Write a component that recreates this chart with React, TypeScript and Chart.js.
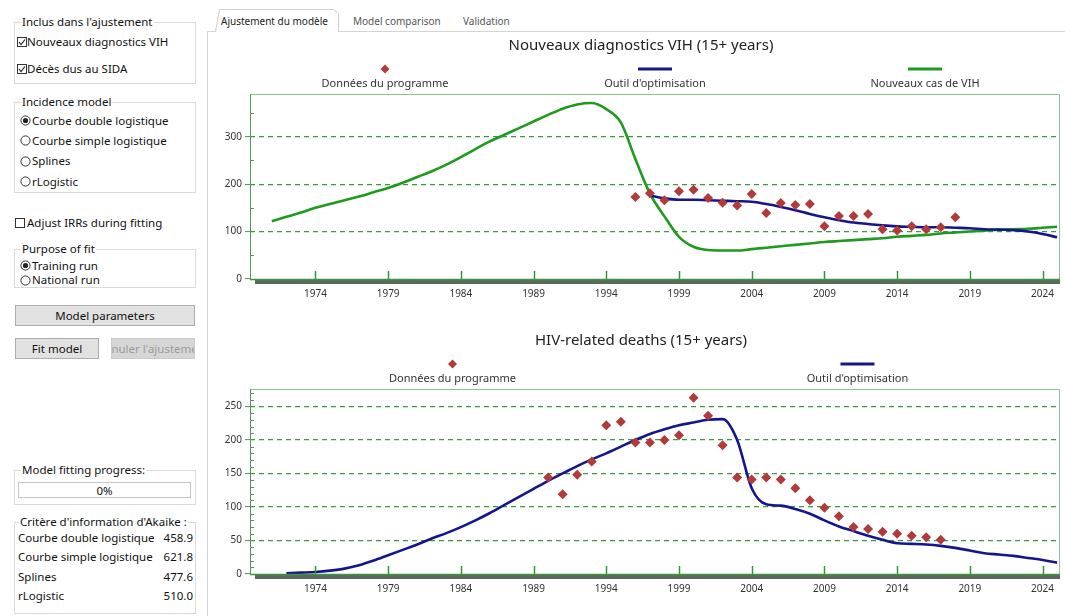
import React, { useEffect, useRef } from "react";
import { Chart, registerables } from "chart.js";

Chart.register(...registerables);

// ---------------- DATA ----------------
const xTickYears = [1974, 1979, 1984, 1989, 1994, 1999, 2004, 2009, 2014, 2019, 2024];

// Top chart: Nouveaux diagnostics VIH
const diagYears = [1996, 1997, 1998, 1999, 2000, 2001, 2002, 2003, 2004, 2005, 2006, 2007, 2008, 2009, 2010, 2011, 2012, 2013, 2014, 2015, 2016, 2017, 2018];
const diagValues = [173, 181, 166, 185, 188, 171, 161, 155, 179, 139, 160, 156, 158, 111, 133, 133, 137, 105, 102, 111, 105, 109, 130];

const diagModelYears = [1997, 1998, 1999, 2000, 2001, 2002, 2003, 2004, 2005, 2006, 2007, 2008, 2009, 2010, 2011, 2012, 2013, 2014, 2015, 2016, 2017, 2018, 2019, 2020, 2021, 2022, 2023, 2024, 2025];
const diagModelValues = [176, 170, 167, 167, 166, 165, 164, 163, 158, 152, 145, 137, 130, 124, 119, 116, 113, 111, 110, 109, 109, 108, 107, 105, 104, 103, 100, 95, 88];

const newCasesYears = [1971, 1972, 1973, 1974, 1975, 1976, 1977, 1978, 1979, 1980, 1981, 1982, 1983, 1984, 1985, 1986, 1987, 1988, 1989, 1990, 1991, 1992, 1993, 1994, 1995, 1996, 1997, 1998, 1999, 2000, 2001, 2002, 2003, 2004, 2005, 2006, 2007, 2008, 2009, 2010, 2011, 2012, 2013, 2014, 2015, 2016, 2017, 2018, 2019, 2020, 2021, 2022, 2023, 2024, 2025];
const newCasesValues = [122, 131, 140, 150, 158, 166, 174, 183, 192, 203, 215, 227, 241, 257, 274, 290, 304, 318, 332, 346, 359, 368, 371, 358, 330, 253, 180, 132, 89, 68, 61, 60, 60, 63, 66, 69, 72, 75, 78, 80, 82, 84, 86, 89, 91, 93, 96, 98, 100, 102, 104, 105, 106, 108, 110];

const diagYMajor = [0, 100, 200, 300];
const diagYMinor = [50, 150, 250, 350];

// Bottom chart: HIV-related deaths
const deathYears = [1990, 1991, 1992, 1993, 1994, 1995, 1996, 1997, 1998, 1999, 2000, 2001, 2002, 2003, 2004, 2005, 2006, 2007, 2008, 2009, 2010, 2011, 2012, 2013, 2014, 2015, 2016, 2017];
const deathValues = [144, 119, 148, 168, 222, 227, 196, 196, 200, 207, 263, 236, 192, 144, 141, 144, 141, 128, 110, 99, 86, 70, 67, 63, 60, 57, 55, 51];

const deathModelYears = [1972, 1973, 1974, 1975, 1976, 1977, 1978, 1979, 1980, 1981, 1982, 1983, 1984, 1985, 1986, 1987, 1988, 1989, 1990, 1991, 1992, 1993, 1994, 1995, 1996, 1997, 1998, 1999, 2000, 2001, 2002, 2003, 2004, 2005, 2006, 2007, 2008, 2009, 2010, 2011, 2012, 2013, 2014, 2015, 2016, 2017, 2018, 2019, 2020, 2021, 2022, 2023, 2024, 2025];
const deathModelValues = [1, 2, 3, 5, 8, 13, 20, 28, 36, 44, 53, 61, 70, 80, 91, 103, 115, 127, 139, 150, 161, 171, 180, 190, 200, 209, 216, 222, 226, 230, 231, 200, 128, 104, 102, 97, 90, 80, 71, 64, 57, 51, 46, 45, 44, 42, 39, 35, 31, 29, 27, 24, 21, 17];

const deathYMajor = [0, 50, 100, 150, 200, 250];
const deathYMinor = [10, 20, 30, 40, 60, 70, 80, 90, 110, 120, 130, 140, 160, 170, 180, 190, 210, 220, 230, 240, 260, 270];

const akaikeLabels = ["Courbe double logistique", "Courbe simple logistique", "Splines", "rLogistic"];
const akaikeValues = ["458.9", "621.8", "477.6", "510.0"];

// ---------------- STYLE ----------------
const FONT = '"Noto Sans", "Open Sans", sans-serif';
const RED = "#b23a3a";
const BLUE = "#16168c";
const GREEN = "#1e9a1e";

type LegendItem = { label: string; kind: "diamond" | "line"; color: string };

function pts(xs: number[], ys: number[]) {
  return xs.map((x, i) => ({ x, y: ys[i] }));
}

function decorPlugin(title: string, legend: LegendItem[], minor: number[]) {
  return {
    id: "decor",
    afterDraw(chart: any) {
      const { ctx, chartArea: a, scales } = chart;
      const xs = scales.x;
      const ys = scales.y;
      ctx.save();
      // plot frame
      ctx.strokeStyle = "#8cc48c";
      ctx.lineWidth = 1;
      ctx.beginPath();
      ctx.moveTo(a.right - 0.5, a.bottom);
      ctx.lineTo(a.right - 0.5, a.top + 0.5);
      ctx.lineTo(a.left, a.top + 0.5);
      ctx.stroke();
      ctx.strokeStyle = "#4e9e4e";
      ctx.beginPath();
      ctx.moveTo(a.left + 0.5, a.top);
      ctx.lineTo(a.left + 0.5, a.bottom);
      ctx.stroke();
      // axis band
      ctx.fillStyle = "#5d685d";
      ctx.fillRect(a.left + 5, a.bottom + 1, a.right - a.left - 5, 4);
      ctx.strokeStyle = "#3c963c";
      ctx.lineWidth = 1.5;
      ctx.beginPath();
      ctx.moveTo(a.left, a.bottom + 0.5);
      ctx.lineTo(a.right, a.bottom + 0.5);
      ctx.stroke();
      // x ticks going up
      ctx.strokeStyle = "#2e9a2e";
      ctx.lineWidth = 1.5;
      xs.ticks.forEach((t: any) => {
        const px = Math.round(xs.getPixelForValue(t.value)) + 0.5;
        ctx.beginPath();
        ctx.moveTo(px, a.bottom);
        ctx.lineTo(px, a.bottom - 8);
        ctx.stroke();
      });
      // minor y ticks inside
      ctx.strokeStyle = "#7a7a7a";
      ctx.lineWidth = 1;
      minor.forEach((v) => {
        const py = Math.round(ys.getPixelForValue(v)) + 0.5;
        ctx.beginPath();
        ctx.moveTo(a.left, py);
        ctx.lineTo(a.left + 4, py);
        ctx.stroke();
      });
      // title
      ctx.fillStyle = "#222";
      ctx.font = `15px ${FONT}`;
      ctx.textAlign = "center";
      ctx.textBaseline = "middle";
      ctx.fillText(title, chart.width / 2 + 6, 16);
      // legend
      const colW = (a.right - a.left) / legend.length;
      legend.forEach((item, i) => {
        const cx = a.left + colW * (i + 0.5);
        if (item.kind === "diamond") {
          const r = 4.5;
          ctx.fillStyle = item.color;
          ctx.beginPath();
          ctx.moveTo(cx - r, 39);
          ctx.lineTo(cx, 39 - r);
          ctx.lineTo(cx + r, 39);
          ctx.lineTo(cx, 39 + r);
          ctx.closePath();
          ctx.fill();
        } else {
          ctx.strokeStyle = item.color;
          ctx.lineWidth = 3;
          ctx.beginPath();
          ctx.moveTo(cx - 17, 39);
          ctx.lineTo(cx + 17, 39);
          ctx.stroke();
        }
        ctx.fillStyle = "#333";
        ctx.font = `11px ${FONT}`;
        ctx.fillText(item.label, cx, 54);
      });
      ctx.restore();
    },
  };
}

function makeConfig(opts: {
  datasets: any[];
  yMax: number;
  major: number[];
  minor: number[];
  title: string;
  legend: LegendItem[];
}): any {
  return {
    type: "line",
    data: { datasets: opts.datasets },
    plugins: [decorPlugin(opts.title, opts.legend, opts.minor)],
    options: {
      responsive: false,
      animation: false,
      events: [],
      layout: { padding: { top: 64, left: 0, right: 1, bottom: 0 } },
      plugins: { legend: { display: false }, tooltip: { enabled: false }, title: { display: false } },
      scales: {
        x: {
          type: "linear",
          min: 1969.5,
          max: 2025.2,
          afterFit: (s: any) => {
            s.height = 41;
          },
          afterBuildTicks: (s: any) => {
            s.ticks = xTickYears.map((v) => ({ value: v }));
          },
          ticks: {
            autoSkip: false,
            maxRotation: 0,
            padding: 9,
            color: "#333",
            font: { size: 10, family: FONT },
            callback: (v: any) => String(v),
          },
          grid: { display: false, drawTicks: false },
          border: { display: false },
        },
        y: {
          type: "linear",
          min: 0,
          max: opts.yMax,
          afterFit: (s: any) => {
            s.width = 45;
          },
          afterBuildTicks: (s: any) => {
            s.ticks = opts.major.map((v) => ({ value: v }));
          },
          ticks: {
            padding: 3,
            color: "#333",
            font: { size: 10, family: FONT },
            callback: (v: any) => String(v),
          },
          grid: {
            color: (c: any) => (c.tick && c.tick.value === 0 ? "rgba(0,0,0,0)" : "#3f9a3f"),
            lineWidth: 1.2,
            tickColor: "#777",
            tickWidth: 1,
            tickLength: 5,
          },
          border: { display: false, dash: [5, 4] },
        },
      },
    },
  };
}

const diamondDs = (data: any[]) => ({
  data,
  showLine: false,
  pointStyle: "rectRot",
  pointRadius: 5,
  pointBackgroundColor: RED,
  pointBorderWidth: 0,
  borderColor: RED,
  backgroundColor: RED,
});
const lineDs = (data: any[], color: string) => ({
  data,
  borderColor: color,
  borderWidth: 2.6,
  pointRadius: 0,
  cubicInterpolationMode: "monotone",
  fill: false,
});

// ---------------- UI helpers ----------------
const UI_FONT: React.CSSProperties = { fontFamily: FONT, fontSize: 11.5, color: "#111", whiteSpace: "nowrap" };

function Txt({ x, y, children, style }: { x: number; y: number; children: any; style?: React.CSSProperties }) {
  return (
    <div style={{ position: "absolute", left: x, top: y - 8, lineHeight: "16px", ...UI_FONT, ...style }}>{children}</div>
  );
}

function GroupBox({ x, y, w, h, label, lx }: { x: number; y: number; w: number; h: number; label: string; lx?: number }) {
  return (
    <>
      <div style={{ position: "absolute", left: x, top: y, width: w, height: h, border: "1px solid #d9d9d9", boxSizing: "border-box" }} />
      <Txt x={lx ?? x + 7} y={y} style={{ background: "#fff", padding: "0 1px" }}>
        {label}
      </Txt>
    </>
  );
}

function Check({ x, y, label, checked, tx }: { x: number; y: number; label: string; checked: boolean; tx: number }) {
  return (
    <>
      <div style={{ position: "absolute", left: x, top: y - 5, width: 10, height: 10, border: "1px solid #333", boxSizing: "border-box", background: "#fff" }}>
        {checked && (
          <svg width="8" height="8" style={{ position: "absolute", left: 0, top: 0 }}>
            <polyline points="1,4 3,6.5 7,1.5" fill="none" stroke="#222" strokeWidth="1.2" />
          </svg>
        )}
      </div>
      <Txt x={tx} y={y}>{label}</Txt>
    </>
  );
}

function Radio({ x, y, label, checked }: { x: number; y: number; label: string; checked: boolean }) {
  return (
    <>
      <svg width="11" height="11" style={{ position: "absolute", left: x, top: y - 5.5 }}>
        <circle cx="5.5" cy="5.5" r="4.6" fill="#fff" stroke="#333" strokeWidth="1" />
        {checked && <circle cx="5.5" cy="5.5" r="2.6" fill="#222" />}
      </svg>
      <Txt x={x + 12} y={y}>{label}</Txt>
    </>
  );
}

function Btn({ x, y, w, h, label, disabled }: { x: number; y: number; w: number; h: number; label: string; disabled?: boolean }) {
  return (
    <div
      style={{
        position: "absolute",
        left: x,
        top: y,
        width: w,
        height: h,
        boxSizing: "border-box",
        border: `1px solid ${disabled ? "#cacaca" : "#adadad"}`,
        background: disabled ? "#d6d6d6" : "#e1e1e1",
        display: "flex",
        alignItems: "center",
        justifyContent: "center",
        overflow: "hidden",
        ...UI_FONT,
        color: disabled ? "#9c9c9c" : "#111",
      }}
    >
      <span style={{ flexShrink: 0 }}>{label}</span>
    </div>
  );
}

const akaikeRowY = [537.5, 556.5, 576.5, 596];

export default function App() {
  const topRef = useRef<HTMLCanvasElement>(null);
  const botRef = useRef<HTMLCanvasElement>(null);

  useEffect(() => {
    const c1 = new Chart(
      topRef.current as HTMLCanvasElement,
      makeConfig({
        datasets: [
          diamondDs(pts(diagYears, diagValues)),
          lineDs(pts(diagModelYears, diagModelValues), BLUE),
          lineDs(pts(newCasesYears, newCasesValues), GREEN),
        ],
        yMax: 390,
        major: diagYMajor,
        minor: diagYMinor,
        title: "Nouveaux diagnostics VIH (15+ years)",
        legend: [
          { label: "Données du programme", kind: "diamond", color: RED },
          { label: "Outil d'optimisation", kind: "line", color: BLUE },
          { label: "Nouveaux cas de VIH", kind: "line", color: GREEN },
        ],
      })
    );
    const c2 = new Chart(
      botRef.current as HTMLCanvasElement,
      makeConfig({
        datasets: [diamondDs(pts(deathYears, deathValues)), lineDs(pts(deathModelYears, deathModelValues), BLUE)],
        yMax: 276,
        major: deathYMajor,
        minor: deathYMinor,
        title: "HIV-related deaths (15+ years)",
        legend: [
          { label: "Données du programme", kind: "diamond", color: RED },
          { label: "Outil d'optimisation", kind: "line", color: BLUE },
        ],
      })
    );
    return () => {
      c1.destroy();
      c2.destroy();
    };
  }, []);

  return (
    <div style={{ position: "absolute", left: 0, top: 0, width: 1065, height: 616, background: "#fff", overflow: "hidden" }}>
      {/* tab panel */}
      <div style={{ position: "absolute", left: 207, top: 31, width: 1, height: 600, background: "#d4d4d4" }} />
      <div style={{ position: "absolute", left: 207, top: 31, width: 9, height: 1, background: "#d4d4d4" }} />
      <div style={{ position: "absolute", left: 338, top: 31, width: 740, height: 1, background: "#d4d4d4" }} />
      <svg width="130" height="26" style={{ position: "absolute", left: 212, top: 7 }}>
        <path d="M3.5,24.5 L7.5,2.5 L122,2.5 L126.5,7 L126.5,24.5" fill="#fff" stroke="#cfcfcf" strokeWidth="1" />
      </svg>
      <Txt x={221} y={20.5} style={{ fontSize: 10, color: "#222" }}>Ajustement du modèle</Txt>
      <Txt x={353} y={20.5} style={{ fontSize: 10, color: "#555" }}>Model comparison</Txt>
      <Txt x={463} y={20.5} style={{ fontSize: 10, color: "#555" }}>Validation</Txt>

      {/* left panel */}
      <GroupBox x={14} y={22} w={182} h={62} label="Inclus dans l'ajustement" />
      <Check x={17} y={41.7} tx={27} label="Nouveaux diagnostics VIH" checked />
      <Check x={17} y={69.3} tx={27} label="Décès dus au SIDA" checked />

      <GroupBox x={14} y={102} w={182} h={91} label="Incidence model" />
      <Radio x={20} y={120.7} label="Courbe double logistique" checked />
      <Radio x={20} y={140.5} label="Courbe simple logistique" checked={false} />
      <Radio x={20} y={161} label="Splines" checked={false} />
      <Radio x={20} y={181.7} label="rLogistic" checked={false} />

      <Check x={15} y={223} tx={27} label="Adjust IRRs during fitting" checked={false} />

      <GroupBox x={14} y={249} w={182} h={39} label="Purpose of fit" />
      <Radio x={20} y={265.5} label="Training run" checked />
      <Radio x={20} y={280} label="National run" checked={false} />

      <Btn x={15} y={305} w={180} h={21} label="Model parameters" />
      <Btn x={15} y={338} w={84} h={21} label="Fit model" />
      <Btn x={111} y={338} w={84} h={21} label="Annuler l'ajustement" disabled />

      <GroupBox x={14} y={470} w={182} h={35} label="Model fitting progress:" />
      <div
        style={{
          position: "absolute",
          left: 18,
          top: 482,
          width: 173,
          height: 16,
          border: "1px solid #c4c4c4",
          boxSizing: "border-box",
          display: "flex",
          alignItems: "center",
          justifyContent: "center",
          ...UI_FONT,
        }}
      >
        0%
      </div>

      <GroupBox x={14} y={522} w={182} h={92} label="Critère d'information d'Akaike :" lx={19} />
      {akaikeLabels.map((l, i) => (
        <React.Fragment key={l}>
          <Txt x={18} y={akaikeRowY[i]}>{l}</Txt>
          <Txt x={150} y={akaikeRowY[i]} style={{ width: 43, textAlign: "right" }}>
            {akaikeValues[i]}
          </Txt>
        </React.Fragment>
      ))}

      {/* charts */}
      <canvas ref={topRef} width={860} height={290} style={{ position: "absolute", left: 205, top: 30, width: 860, height: 290 }} />
      <canvas ref={botRef} width={860} height={290} style={{ position: "absolute", left: 205, top: 325, width: 860, height: 290 }} />
    </div>
  );
}
